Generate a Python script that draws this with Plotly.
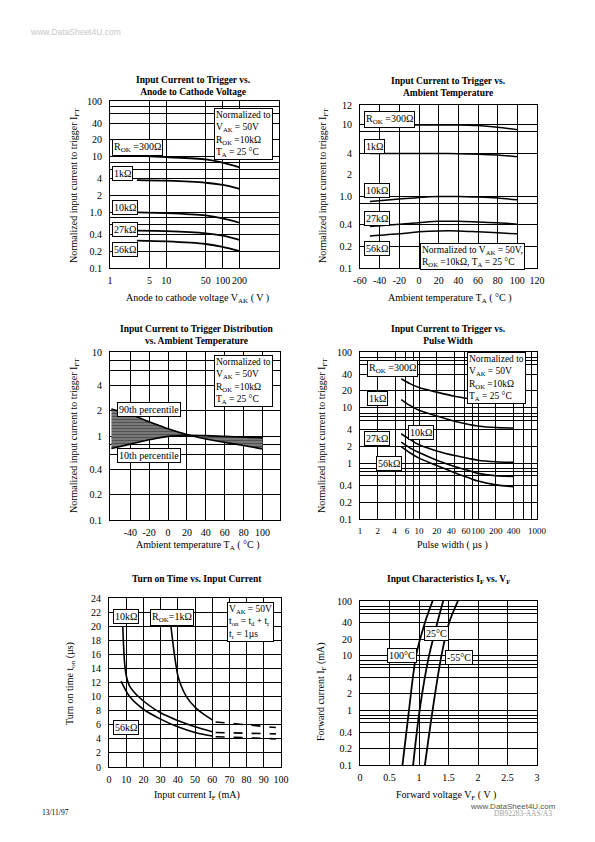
import math
import plotly.graph_objects as go

W, H = 595, 842
SERIF = "Liberation Serif"
NB = "\u00a0"

# ---------------- data ----------------
# Chart 1: Input current to trigger vs anode-cathode voltage
vak = [3, 10, 50, 100, 200]
c1_300 = [10.3, 9.8, 8.9, 7.8, 6.4]
c1_1k = [3.8, 3.7, 3.4, 3.1, 2.65]
c1_10k = [1.0, 0.97, 0.88, 0.78, 0.65]
c1_27k = [0.47, 0.46, 0.42, 0.38, 0.32]
c1_56k = [0.31, 0.30, 0.27, 0.24, 0.20]
c1_xticks = [1, 5, 10, 50, 100, 200]
c1_xlabels = ["1", "5", "10", "50", "100", "200"]
c1_yticks = [100, 40, 20, 10, 4, 2, 1, 0.4, 0.2, 0.1]
c1_ylabels = ["100", "40", "20", "10", "4", "2", "1.0", "0.4", "0.2", "0.1"]

# Chart 2: vs ambient temperature
ta = [-50, -20, 0, 20, 40, 60, 80, 100]
c2_300 = [10, 10, 10, 10, 10, 9.8, 9.3, 8.6]
c2_1k = [4.0, 4.0, 4.0, 4.0, 3.95, 3.9, 3.8, 3.6]
c2_10k = [0.85, 0.92, 0.97, 1.0, 1.0, 0.98, 0.95, 0.9]
c2_27k = [0.38, 0.41, 0.43, 0.45, 0.45, 0.44, 0.43, 0.41]
c2_56k = [0.28, 0.30, 0.32, 0.33, 0.33, 0.32, 0.31, 0.30]
c2_xticks = [-60, -40, -20, 0, 20, 40, 60, 80, 100, 120]
c2_xlabels = ["-60", "-40", "-20", "0", "20", "40", "60", "80", "100", "120"]
c2_yticks = [19, 10, 4, 2, 1, 0.4, 0.2, 0.1]
c2_ylabels = ["12", "10", "4", "2", "1.0", "0.4", "0.2", "0.1"]
c2_ygrid = [19, 10, 8, 4, 1, 0.8, 0.4, 0.2, 0.1]

# Chart 3: distribution vs ambient temperature
t3 = [-60, -40, -20, 0, 20, 40, 60, 80, 100]
p90 = [2.1, 1.8, 1.48, 1.22, 1.04, 0.92, 0.84, 0.77, 0.70]
p10 = [0.71, 0.80, 0.90, 0.99, 1.02, 1.01, 0.99, 0.97, 0.95]
c3_xticks = [-40, -20, 0, 20, 40, 60, 80, 100]
c3_xlabels = ["-40", "-20", "0", "20", "40", "60", "80", "100"]
c3_yticks = [10, 4, 2, 1, 0.4, 0.2, 0.1]
c3_ylabels = ["10", "4", "2", "1", "0.4", "0.2", "0.1"]

# Chart 4: vs pulse width
pw = [5, 7, 10, 20, 40, 70, 100, 200, 400]
c4_300 = [33, 27, 23, 19, 16, 14.5, 13.8, 13, 12.5]
c4_1k = [14, 11, 9, 7.1, 5.7, 5.0, 4.7, 4.4, 4.3]
c4_10k = [3.4, 2.7, 2.15, 1.67, 1.38, 1.22, 1.14, 1.07, 1.04]
c4_27k = [2.4, 1.9, 1.56, 1.14, 0.88, 0.74, 0.66, 0.60, 0.58]
c4_56k = [2.0, 1.55, 1.24, 0.91, 0.68, 0.55, 0.48, 0.41, 0.38]
c4_xticks = [1, 2, 4, 6, 10, 20, 40, 60, 100, 200, 400, 1000]
c4_xlabels = ["1", "2", "4" + NB, NB + "6", "10", "20", "40" + NB * 3, NB + "60",
              "100", "200", "400", "1000"]
c4_yticks = [100, 40, 20, 10, 4, 2, 1, 0.4, 0.2, 0.1]
c4_ylabels = ["100", "40", "20", "10", "4", "2", "1", "0.4", "0.2", "0.1"]

# Chart 5: turn on time vs input current
if_1k = [36, 38, 40, 42, 45, 50, 55, 60]
ton_1k = [20, 16, 13, 11.5, 10, 8.5, 7.5, 6.7]
if_10k = [8, 9, 10, 12, 18, 30, 40, 50, 60]
ton_10k = [20, 15, 13, 11.5, 9.8, 7.7, 6.6, 5.7, 5.0]
if_56k = [7, 12, 20, 30, 40, 50, 60]
ton_56k = [12.2, 10, 8.2, 6.8, 5.7, 4.9, 4.4]
if_ext = [62, 97]
ton_1k_ext = [6.4, 5.6]
ton_10k_ext = [4.9, 4.7]
ton_56k_ext = [4.3, 4.0]
c5_xticks = [0, 10, 20, 30, 40, 50, 60, 70, 80, 90, 100]
c5_yticks = [0, 2, 4, 6, 8, 10, 12, 14, 16, 18, 20, 22, 24]

# Chart 6: input characteristics IF vs VF
if6 = [0.1, 1, 10, 40, 100]
vf_100 = [0.72, 0.83, 0.95, 1.10, 1.23]
vf_25 = [0.90, 1.01, 1.17, 1.31, 1.41]
vf_m55 = [1.10, 1.23, 1.38, 1.51, 1.66]
c6_xticks = [0, 0.5, 1, 1.5, 2, 2.5, 3]
c6_xlabels = ["0", "0.5", "1", "1.5", "2", "2.5", "3"]
c6_yticks = [100, 40, 20, 10, 4, 2, 1, 0.4, 0.2, 0.1]
c6_ylabels = ["100", "40", "20", "10", "4", "2", "1", "0.4", "0.2", "0.1"]

# gridline multipliers for log axes
LOG_MULT_A = [1, 2, 4, 6, 8]
LOG_MULT_B = [1, 2, 4, 6, 7, 8]


def log_grid(dec_lo, dec_hi, mults):
    vals = []
    for d in range(dec_lo, dec_hi):
        for m in mults:
            vals.append(m * 10 ** d)
    vals.append(10 ** dec_hi)
    return vals


# ---------------- helpers ----------------
def px(x):
    return x / W


def py(y):
    return 1 - y / H


def axis(dom, rng, tickvals, ticktext, grid, log=False, vertical=False, fsize=10):
    a = dict(
        domain=dom,
        range=rng,
        type="log" if log else "linear",
        tickmode="array",
        tickvals=tickvals,
        ticktext=ticktext,
        tickangle=0,
        showgrid=False,
        zeroline=False,
        showline=True,
        mirror=True,
        linecolor="black",
        linewidth=1,
        ticks="outside",
        ticklen=5 if vertical else 3,
        tickcolor="rgba(0,0,0,0)",
        tickfont=dict(family=SERIF, size=fsize, color="black"),
        fixedrange=True,
        automargin=False,
        minor=dict(tickmode="array", tickvals=grid, showgrid=True,
                   gridcolor="black", gridwidth=1, ticks=""),
    )
    return a


fig = go.Figure()


def add(x, y, n, dash=None, width=1.8, shape="spline"):
    fig.add_trace(go.Scatter(
        x=x, y=y, mode="lines", xaxis=f"x{n}" if n > 1 else "x",
        yaxis=f"y{n}" if n > 1 else "y",
        line=dict(color="black", width=width, dash=dash, shape=shape,
                  smoothing=0.8),
        showlegend=False, hoverinfo="skip"))


for s in (c1_300, c1_1k, c1_10k, c1_27k, c1_56k):
    add(vak, s, 1)
for s in (c2_300, c2_1k, c2_10k, c2_27k, c2_56k):
    add(ta, s, 2, width=1.5)

# chart 3 band
fig.add_trace(go.Scatter(x=t3, y=p10, mode="lines", xaxis="x3", yaxis="y3",
                         line=dict(color="black", width=1.6, shape="spline"),
                         showlegend=False, hoverinfo="skip"))
fig.add_trace(go.Scatter(x=t3, y=p90, mode="lines", xaxis="x3", yaxis="y3",
                         line=dict(color="black", width=1.6, shape="spline"),
                         fill="tonexty", fillcolor="#6a6a6a",
                         fillpattern=dict(shape="-", fgcolor="#2a2a2a",
                                          bgcolor="#787878", size=3,
                                          solidity=0.35),
                         showlegend=False, hoverinfo="skip"))

for s in (c4_300, c4_1k, c4_10k, c4_27k, c4_56k):
    add(pw, s, 4, width=1.6)

add(if_1k, ton_1k, 5, width=1.6)
add(if_10k, ton_10k, 5, width=1.6)
add(if_56k, ton_56k, 5, width=1.6)
for s in (ton_1k_ext, ton_10k_ext, ton_56k_ext):
    add(if_ext, s, 5, dash="dash", width=1.6, shape="linear")

for s in (vf_100, vf_25, vf_m55):
    add(s, if6, 6, width=1.8)

L = math.log10

# ---------------- axes ----------------
d1x = [px(110), px(279)]
d1y = [py(268), py(101)]
d2x = [px(360), px(537)]
d2y = [py(268), py(105)]
d3x = [px(110), px(280)]
d3y = [py(520), py(352)]
d4x = [px(360), px(537)]
d4y = [py(519), py(352)]
d5x = [px(109), px(281)]
d5y = [py(767), py(598)]
d6x = [px(360), px(537)]
d6y = [py(765), py(601)]

lay = dict(
    width=W, height=H, margin=dict(l=0, r=0, t=0, b=0, pad=0),
    autosize=False,
    paper_bgcolor="white", plot_bgcolor="white", showlegend=False,
    font=dict(family=SERIF, size=10, color="black"),
)

lay["xaxis"] = axis(d1x, [0, 3], c1_xticks, c1_xlabels, [5, 10, 50, 100, 200], log=True)
lay["yaxis"] = axis(d1y, [-1, 2], c1_yticks, c1_ylabels, log_grid(-1, 2, LOG_MULT_A), log=True, vertical=True)
lay["xaxis"]["anchor"] = "y"
lay["yaxis"]["anchor"] = "x"

lay["xaxis2"] = axis(d2x, [-60, 120], c2_xticks, c2_xlabels, [-40, -20, 0, 20, 40, 60, 80, 100])
lay["yaxis2"] = axis(d2y, [-1, L(19)], c2_yticks, c2_ylabels, c2_ygrid, log=True, vertical=True)
lay["xaxis2"]["anchor"] = "y2"
lay["yaxis2"]["anchor"] = "x2"

lay["xaxis3"] = axis(d3x, [-61.5, 118.5], c3_xticks, c3_xlabels, c3_xticks)
lay["yaxis3"] = axis(d3y, [-1, 1], c3_yticks, c3_ylabels, log_grid(-1, 1, LOG_MULT_A), log=True, vertical=True)
lay["xaxis3"]["anchor"] = "y3"
lay["yaxis3"]["anchor"] = "x3"

lay["xaxis4"] = axis(d4x, [0, 3], c4_xticks, c4_xlabels,
                     [2, 4, 6, 8, 10, 20, 40, 60, 80, 100, 200, 400, 600, 800], log=True,
                     fsize=9)
lay["yaxis4"] = axis(d4y, [-1, 2], c4_yticks, c4_ylabels, log_grid(-1, 2, LOG_MULT_B), log=True, vertical=True)
lay["xaxis4"]["anchor"] = "y4"
lay["yaxis4"]["anchor"] = "x4"

lay["xaxis5"] = axis(d5x, [0, 100], c5_xticks, [str(v) for v in c5_xticks], c5_xticks)
lay["yaxis5"] = axis(d5y, [0, 24], c5_yticks, [str(v) for v in c5_yticks], c5_yticks, vertical=True)
lay["xaxis5"]["anchor"] = "y5"
lay["yaxis5"]["anchor"] = "x5"

lay["xaxis6"] = axis(d6x, [0, 3], c6_xticks, c6_xlabels, c6_xticks)
lay["yaxis6"] = axis(d6y, [-1, 2], c6_yticks, c6_ylabels, log_grid(-1, 2, LOG_MULT_B), log=True, vertical=True)
lay["xaxis6"]["anchor"] = "y6"
lay["yaxis6"]["anchor"] = "x6"

# ---------------- annotations ----------------
ann = []


def text(t, x, y, size=10, bold=False, angle=0, color="black", family=SERIF,
         xanchor="center"):
    ann.append(dict(text=f"<b>{t}</b>" if bold else t, x=px(x), y=py(y),
                    xref="paper", yref="paper", xanchor=xanchor, yanchor="middle",
                    showarrow=False, textangle=angle,
                    font=dict(family=family, size=size, color=color)))


def box(t, x, y, size=10):
    ann.append(dict(text=t, x=px(x), y=py(y), xref="paper", yref="paper",
                    xanchor="left", yanchor="top", showarrow=False, align="left",
                    bordercolor="black", borderwidth=1, borderpad=1,
                    bgcolor="white", font=dict(family=SERIF, size=size, color="black")))


# titles
text("Input Current to Trigger vs.<br>Anode to Cathode Voltage", 193, 86, size=9.5, bold=True)
text("Input Current to Trigger vs.<br>Ambient Temperature", 448, 87, size=9.5, bold=True)
text("Input Current to Trigger Distribution<br>vs. Ambient Temperature", 197, 335, size=9.5, bold=True)
text("Input Current to Trigger vs.<br>Pulse Width", 448, 335, size=9.5, bold=True)
text("Turn on Time vs. Input Current", 197, 579, size=9.5, bold=True)
text("Input Characteristics I<sub>F</sub> vs. V<sub>F</sub>", 448, 579, size=9.5, bold=True)

# axis titles
text("Anode to cathode voltage V<sub>AK</sub> ( V )", 197, 298)
text("Ambient temperature T<sub>A</sub> ( °C )", 450, 298)
text("Ambient temperature T<sub>A</sub> ( °C )", 198, 545)
text("Pulse width ( µs )", 452, 545)
text("Input current I<sub>F</sub> (mA)", 197, 795)
text("Forward voltage V<sub>F</sub> ( V )", 446, 795)

YT = "Normalized input current to trigger I<sub>FT</sub>"
text(YT, 75, 186, angle=-90)
text(YT, 324, 186, angle=-90)
text(YT, 75, 436, angle=-90)
text(YT, 323, 436, angle=-90)
text("Turn on time t<sub>on</sub> (µs)", 70, 684, angle=-90)
text("Forward current I<sub>F</sub> (mA)", 321, 692, angle=-90)

# chart 1 boxes
box("Normalized to<br>V<sub>AK</sub> = 50V<br>R<sub>OK</sub> =10kΩ<br>T<sub>A</sub> = 25 °C", 214, 108, size=9.5)
box("R<sub>OK</sub> =300Ω", 112, 139)
box("1kΩ", 112, 166)
box("10kΩ", 112, 200)
box("27kΩ", 112, 222)
box("56kΩ", 112, 242)

# chart 2 boxes
box("R<sub>OK</sub> =300Ω", 364, 111)
box("1kΩ", 364, 139)
box("10kΩ", 364, 183)
box("27kΩ", 364, 211)
box("56kΩ", 364, 241)
box("Normalized to V<sub>AK</sub> = 50V,<br>R<sub>OK</sub> =10kΩ, T<sub>A</sub> = 25 °C", 420, 243, size=9.5)

# chart 3 boxes
box("Normalized to<br>V<sub>AK</sub> = 50V<br>R<sub>OK</sub> =10kΩ<br>T<sub>A</sub> = 25 °C", 214, 355, size=9.5)
box("90th percentile", 117, 402)
box("10th percentile", 117, 448)

# chart 4 boxes
box("Normalized to<br>V<sub>AK</sub> = 50V<br>R<sub>OK</sub> =10kΩ<br>T<sub>A</sub> = 25 °C", 467, 352, size=9.5)
box("R<sub>OK</sub> =300Ω", 367, 360)
box("1kΩ", 367, 391)
box("10kΩ", 408, 425)
box("27kΩ", 364, 431)
box("56kΩ", 376, 456)

# chart 5 boxes
box("10kΩ", 113, 609)
box("R<sub>OK</sub>=1kΩ", 150, 609)
box("V<sub>AK</sub> = 50V<br>t<sub>on</sub> = t<sub>d</sub> + t<sub>r</sub><br>t<sub>r</sub> = 1µs", 227, 602, size=9.5)
box("56kΩ", 113, 720)

# chart 6 boxes
box("25°C", 424, 626)
box("100°C", 387, 648)
box("-55°C", 445, 650)

# page decorations
text("www.DataSheet4U.com", 28, 32, size=8.5, color="#c8c8c8",
     family="Liberation Sans", xanchor="left")
text("13/11/97", 40, 812, size=7.5, xanchor="left")
text("www.DataSheet4U.com", 468, 806, size=8, color="#555555",
     family="Liberation Sans", xanchor="left")
text("DB92283-AAS/A3", 492, 813, size=7.5, color="#a0a0a0", xanchor="left")

lay["annotations"] = ann
fig.update_layout(**lay)
fig.write_html(
    "out.html",
    config={"responsive": False, "displayModeBar": False},
    post_script="document.body.style.margin='0px';document.body.style.padding='0px';document.body.style.overflow='hidden';",
)
